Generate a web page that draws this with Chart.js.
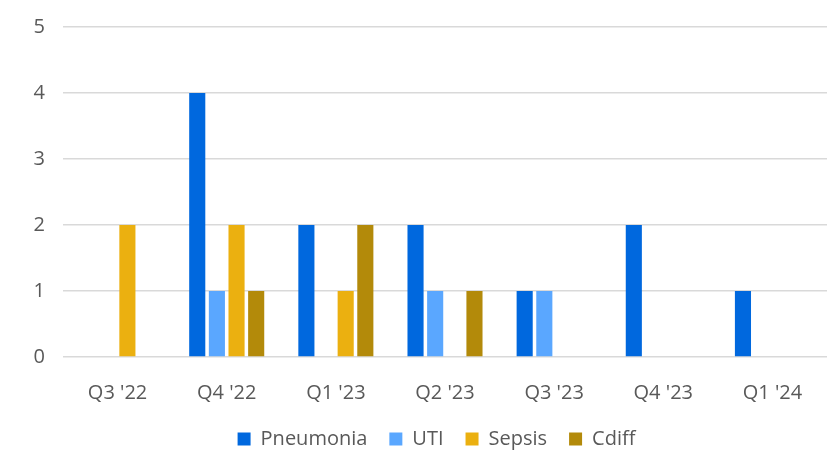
<!DOCTYPE html>
<html lang="en">
<head>
<meta charset="UTF-8" />
<title>Infections by quarter</title>
<script src="https://cdn.jsdelivr.net/npm/chart.js@4.4.1/dist/chart.umd.min.js"></script>
<style>
html,body{margin:0;padding:0;background:#fff}
.wrap{width:831px;height:459px}
#chart{display:block}
</style>
</head>
<body>
<div class="wrap"><canvas id="chart" width="831" height="459"></canvas></div>
<script>
const quarters=["Q3 '22","Q4 '22","Q1 '23","Q2 '23","Q3 '23","Q4 '23","Q1 '24"];
const pneumonia=[0,4,2,2,1,2,1];
const uti=[0,1,0,1,1,0,0];
const sepsis=[2,2,1,0,0,0,0];
const cdiff=[0,1,2,1,0,0,0];

const grey='#595959';
const font={family:'"Open Sans", "Noto Sans", sans-serif',size:20};

const bar=(label,data,color)=>({label,data,backgroundColor:color,borderWidth:0,
  categoryPercentage:0.72,barPercentage:0.82});

// centre the legend under the plot area rather than the whole canvas
const legendUnderPlot={
  id:'legendUnderPlot',
  afterLayout(chart){
    const l=chart.legend;
    if(l){l.left=chart.chartArea.left-17;l.right=chart.chartArea.right;l.width=l.right-l.left;}
  }
};

new Chart(document.getElementById('chart'),{
  type:'bar',
  data:{
    labels:quarters,
    datasets:[
      bar('Pneumonia',pneumonia,'#0068de'),
      bar('UTI',uti,'#5aa7ff'),
      bar('Sepsis',sepsis,'#ebb010'),
      bar('Cdiff',cdiff,'#b38a0a')
    ]
  },
  plugins:[legendUnderPlot],
  options:{
    responsive:false,
    animation:false,
    layout:{padding:{left:0,right:4,top:27,bottom:0}},
    plugins:{
      tooltip:{enabled:false},
      legend:{position:'bottom',
        labels:{color:grey,font,boxWidth:13,boxHeight:13,padding:22}}
    },
    scales:{
      x:{grid:{display:false},border:{display:false},
         ticks:{color:grey,font,padding:16},
         afterFit:s=>{s.height=50;}},
      y:{min:0,max:5,
         ticks:{stepSize:1,color:grey,font,padding:18},
         grid:{color:'#d9d9d9',lineWidth:1.5,drawTicks:false},
         border:{display:false},
         afterFit:s=>{s.width=63;s.paddingTop=0;s.paddingBottom=0;}}
    }
  }
});
</script>
</body>
</html>
